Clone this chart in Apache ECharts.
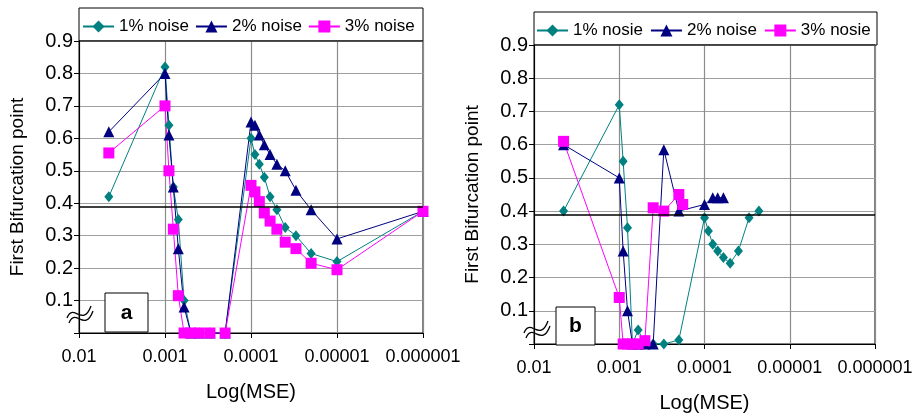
<!DOCTYPE html>
<html>
<head>
<meta charset="utf-8">
<script src="https://cdn.jsdelivr.net/npm/echarts@6/dist/echarts.min.js"></script>
<style>
  html, body { margin: 0; padding: 0; background: #fff; }
  #main { width: 916px; height: 418px; }
</style>
</head>
<body>
<div id="main"></div>
<script>
var chart = echarts.init(document.getElementById('main'));

// x tick labels (log axis, reversed)
var xTickLabels = ['0.01', '0.001', '0.0001', '0.00001', '0.000001'];

// panel a
var xA = [0.0045, 0.001, 0.0009, 0.0008, 0.0007, 0.0006, 0.0005, 0.0004, 0.0003, 0.0002,
          1e-4, 9e-5, 8e-5, 7e-5, 6e-5, 5e-5, 4e-5, 3e-5, 2e-5, 1e-5, 1e-6];
var noise1A = [0.42, 0.82, 0.64, 0.45, 0.35, 0.10, 0, 0, 0, 0,
               0.60, 0.55, 0.52, 0.48, 0.42, 0.38, 0.325, 0.30, 0.245, 0.22, 0.375];
var noise2A = [0.62, 0.80, 0.61, 0.45, 0.26, 0.08, 0, 0, 0, 0,
               0.65, 0.64, 0.61, 0.58, 0.55, 0.52, 0.50, 0.44, 0.38, 0.29, 0.375];
var noise3A = [0.555, 0.70, 0.50, 0.32, 0.115, 0, 0, 0, 0, 0,
               0.455, 0.435, 0.405, 0.37, 0.345, 0.32, 0.28, 0.26, 0.215, 0.195, 0.375];
var refA = 0.385;

// panel b
var x1B = [0.0045, 0.001, 0.0009, 0.0008, 0.0007, 0.0006, 0.0005, 0.0004, 0.0003, 0.0002,
           1e-4, 9e-5, 8e-5, 7e-5, 6e-5, 5e-5, 4e-5, 3e-5, 2.3e-5];
var noise1B = [0.40, 0.72, 0.55, 0.35, 0, 0.042, 0, 0, 0, 0.012,
               0.38, 0.34, 0.30, 0.28, 0.26, 0.243, 0.28, 0.38, 0.40];
var x2B = [0.0045, 0.001, 0.0009, 0.0008, 0.0007, 0.0006, 0.0005, 0.0004, 0.0003, 0.0002,
           1e-4, 8e-5, 7e-5, 6e-5];
var noise2B = [0.60, 0.50, 0.28, 0.10, 0, 0, 0, 0, 0.585, 0.40, 0.42, 0.44, 0.44, 0.44];
var x3B = [0.0045, 0.001, 0.0009, 0.0008, 0.0007, 0.0006, 0.0005, 0.0004, 0.0003, 0.0002, 0.00018];
var noise3B = [0.61, 0.14, 0, 0, 0, 0, 0.01, 0.41, 0.40, 0.45, 0.42];
var refB = 0.39;

function pairs(xs, ys) {
  return xs.map(function (x, i) { return [x, ys[i]]; });
}

var TEAL = '#008080', NAVY = '#000080', PINK = '#ff00ff';
var FONT = 'Liberation Sans';

function xAxisOpt(gi) {
  return {
    gridIndex: gi, type: 'log', logBase: 10, min: 1e-6, max: 0.01, inverse: true,
    name: 'Log(MSE)', nameLocation: 'middle', nameGap: 49,
    nameTextStyle: { fontSize: 20, color: '#000', fontFamily: FONT },
    axisLine: { lineStyle: { color: '#000', width: 1 } },
    axisTick: { show: true, length: 5, lineStyle: { color: '#000' } },
    minorTick: { show: false },
    axisLabel: {
      fontSize: 18, color: '#000', fontFamily: FONT, margin: 15,
      formatter: function (v) { return xTickLabels[Math.round(-Math.log10(v)) - 2]; }
    },
    splitLine: { show: true, lineStyle: { color: '#8c8c8c', width: 1.2 } }
  };
}

function yAxisOpt(gi) {
  return {
    gridIndex: gi, type: 'value', min: 0, max: 0.9, interval: 0.1,
    name: 'First Bifurcation point', nameLocation: 'middle', nameGap: 52,
    nameTextStyle: { fontSize: 19, color: '#000', fontFamily: FONT },
    axisLine: { show: true, lineStyle: { color: '#000', width: 1 } },
    axisTick: { show: true, length: 5, lineStyle: { color: '#000' } },
    axisLabel: {
      fontSize: 20, color: '#000', fontFamily: FONT, margin: 6,
      formatter: function (v) { return v === 0 ? '' : v.toFixed(1); }
    },
    splitLine: { show: true, lineStyle: { color: '#a0a0a0', width: 1.2 } }
  };
}

function lineSeries(name, gi, data, color, symbol, size, ref) {
  var s = {
    name: name, type: 'line', xAxisIndex: gi, yAxisIndex: gi, data: data,
    symbol: symbol, symbolSize: size, showSymbol: true,
    lineStyle: { color: color, width: 1 },
    itemStyle: { color: color },
    animation: false
  };
  if (ref !== undefined) {
    s.markLine = {
      silent: true, symbol: 'none', label: { show: false },
      lineStyle: { color: '#000', width: 1.5, type: 'solid' },
      data: [{ yAxis: ref }]
    };
  }
  return s;
}

// axis break mark
function wave(dx, dy) {
  var st = { stroke: '#000', lineWidth: 1.3, fill: null };
  return [
    { type: 'bezierCurve', shape: { x1: 67 + dx, y1: 318 + dy, cpx1: 73 + dx, cpy1: 302 + dy, cpx2: 83 + dx, cpy2: 328 + dy, x2: 91 + dx, y2: 306 + dy }, style: st },
    { type: 'bezierCurve', shape: { x1: 69 + dx, y1: 323 + dy, cpx1: 75 + dx, cpy1: 307 + dy, cpx2: 85 + dx, cpy2: 333 + dy, x2: 93 + dx, y2: 311 + dy }, style: st }
  ];
}

var legendText = { fontSize: 17, color: '#000', fontFamily: FONT };

option = {
  backgroundColor: '#fff',
  animation: false,
  grid: [
    { left: 79, right: 493, top: 41, bottom: 85, show: true, borderColor: '#000', borderWidth: 1, backgroundColor: '#fff' },
    { left: 534, right: 41, top: 45, bottom: 73, show: true, borderColor: '#000', borderWidth: 1, backgroundColor: '#fff' }
  ],
  legend: [
    { data: ['1% noise', '2% noise', '3% noise'], left: 82, top: 18, padding: 0,
      itemWidth: 31, itemHeight: 15, itemGap: 6, textStyle: legendText },
    { data: ['1% nosie', '2% noise', '3% nosie'], left: 536, top: 22, padding: 0,
      itemWidth: 31, itemHeight: 15, itemGap: 7, textStyle: legendText }
  ],
  xAxis: [xAxisOpt(0), xAxisOpt(1)],
  yAxis: [yAxisOpt(0), yAxisOpt(1)],
  series: [
    lineSeries('1% noise', 0, pairs(xA, noise1A), TEAL, 'diamond', [9, 11], refA),
    lineSeries('2% noise', 0, pairs(xA, noise2A), NAVY, 'triangle', 11),
    lineSeries('3% noise', 0, pairs(xA, noise3A), PINK, 'rect', 11),
    lineSeries('1% nosie', 1, pairs(x1B, noise1B), TEAL, 'diamond', [9, 11], refB),
    lineSeries('2% noise', 1, pairs(x2B, noise2B), NAVY, 'triangle', 11),
    lineSeries('3% nosie', 1, pairs(x3B, noise3B), PINK, 'rect', 11)
  ],
  graphic: [
    // legend frames
    { type: 'rect', shape: { x: 79, y: 8, width: 344, height: 33 }, style: { fill: null, stroke: '#000', lineWidth: 1 }, z: 10 },
    { type: 'rect', shape: { x: 534, y: 12, width: 343, height: 33 }, style: { fill: null, stroke: '#000', lineWidth: 1 }, z: 10 },
    // panel labels
    { type: 'rect', shape: { x: 105, y: 293, width: 43, height: 39 }, style: { fill: '#fff', stroke: '#000', lineWidth: 1 }, z: 10 },
    { type: 'text', x: 126.5, y: 313, style: { text: 'a', fontSize: 21, fontWeight: 'bold', fontFamily: FONT, fill: '#000', align: 'center', verticalAlign: 'middle' }, z: 11 },
    { type: 'rect', shape: { x: 556, y: 307, width: 39, height: 38 }, style: { fill: '#fff', stroke: '#000', lineWidth: 1 }, z: 10 },
    { type: 'text', x: 575.5, y: 326, style: { text: 'b', fontSize: 21, fontWeight: 'bold', fontFamily: FONT, fill: '#000', align: 'center', verticalAlign: 'middle' }, z: 11 }
  ].concat(wave(0, 0), wave(457, 15))
};

chart.setOption(option);
</script>
</body>
</html>
